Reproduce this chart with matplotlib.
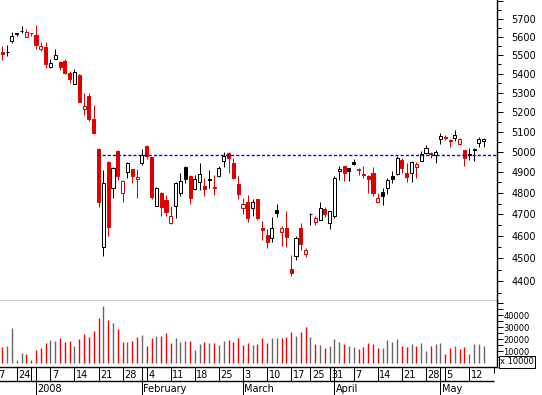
import matplotlib
matplotlib.use("Agg")
import matplotlib.pyplot as plt
from matplotlib.ticker import FixedLocator, FixedFormatter, NullFormatter
import numpy as np

plt.rcParams['font.family'] = ['DejaVu Sans']

# daily candles, index 0 = 24 Dec 2007, first visible one is index -3
first_idx = -3
opens = [5519, 5515, 5579, 5616, 5632, 5598, 5620, 5611, 5535, 5544,
         5438, 5481, 5463, 5468, 5406, 5347, 5393, 5217, 5282, 5164,
         5013, 4549, 4950, 4822, 5005, 4798, 4899, 4913, 4866, 4943,
         5030, 4971, 4740, 4798, 4767, 4658, 4738, 4798, 4925, 4882,
         4817, 4853, 4834, 4860, 4828, 4882, 4955, 4992, 4943, 4843,
         4728, 4756, 4728, 4769, 4636, 4605, 4592, 4720, 4617, 4635,
         4452, 4510, 4635, 4518, 4700, 4663, 4673, 4724, 4658, 4692,
         4907, 4927, 4919, 4947, 4917, 4891, 4881, 4894, 4759, 4806,
         4822, 4881, 4889, 4959, 4894, 4894, 4925, 4955, 4992, 4992,
         4983, 5063, 5074, 5058, 5066, 5036, 5006, 4983, 5010, 5041,
         5053]
highs = [5550, 5555, 5629, 5623, 5661, 5644, 5622, 5666, 5570, 5570,
         5479, 5534, 5468, 5479, 5415, 5425, 5399, 5300, 5297, 5236,
         5016, 4910, 4955, 4923, 5008, 4860, 4950, 4916, 4915, 5013,
         5034, 4973, 4827, 4803, 4790, 4738, 4851, 4897, 4929, 4885,
         4886, 4943, 4870, 4910, 4886, 4931, 4997, 5000, 4967, 4881,
         4775, 4790, 4771, 4772, 4669, 4632, 4689, 4748, 4646, 4715,
         4514, 4601, 4658, 4546, 4707, 4692, 4759, 4735, 4717, 4881,
         4929, 4930, 4921, 4964, 4919, 4929, 4886, 4926, 4798, 4825,
         4870, 4907, 4978, 4967, 4943, 4954, 4950, 5004, 5033, 5000,
         5008, 5094, 5084, 5061, 5108, 5066, 5009, 5016, 5016, 5074,
         5066]
lows = [5474, 5497, 5568, 5607, 5620, 5597, 5607, 5534, 5524, 5429,
        5432, 5480, 5420, 5399, 5352, 5346, 5250, 5184, 5155, 5089,
        4732, 4511, 4601, 4777, 4862, 4758, 4873, 4846, 4775, 4934,
        4964, 4771, 4737, 4693, 4693, 4656, 4681, 4787, 4846, 4748,
        4815, 4814, 4787, 4822, 4790, 4877, 4926, 4894, 4865, 4771,
        4701, 4663, 4693, 4673, 4582, 4544, 4574, 4688, 4556, 4551,
        4423, 4492, 4537, 4505, 4650, 4650, 4671, 4686, 4632, 4684,
        4862, 4858, 4858, 4934, 4886, 4873, 4798, 4785, 4756, 4745,
        4795, 4846, 4887, 4894, 4853, 4853, 4870, 4953, 4990, 4967,
        4946, 5038, 5058, 5021, 5054, 5033, 4931, 4959, 4955, 5021,
        5024]
closes = [5505, 5519, 5605, 5620, 5634, 5630, 5619, 5555, 5550, 5452,
          5458, 5501, 5438, 5406, 5372, 5410, 5253, 5231, 5162, 5094,
          4756, 4849, 4643, 4918, 4882, 4857, 4945, 4882, 4876, 4983,
          4978, 4782, 4822, 4732, 4712, 4692, 4846, 4858, 4865, 4777,
          4865, 4891, 4820, 4865, 4822, 4922, 4978, 4970, 4873, 4795,
          4746, 4681, 4759, 4684, 4626, 4574, 4635, 4704, 4635, 4597,
          4436, 4590, 4562, 4535, 4701, 4681, 4728, 4701, 4715, 4870,
          4913, 4894, 4905, 4938, 4910, 4884, 4865, 4801, 4775, 4787,
          4862, 4868, 4967, 4918, 4877, 4947, 4941, 4987, 5016, 4987,
          5000, 5078, 5066, 5053, 5083, 5061, 4967, 4986, 5011, 5061,
          5063]
volumes = [13700, 14300, 29700, 2500, 8700, 7600, 2500, 10900, 12900, 17100,
           19300, 18700, 21300, 17900, 18700, 14300, 20400, 24400, 22100, 27200,
           38100, 47900, 36100, 33900, 28600, 17400, 17900, 18700, 22100, 23500,
           14600, 21300, 22700, 22700, 24900, 16500, 21300, 17900, 18500, 18500,
           10900, 16000, 17900, 17100, 17100, 15100, 18500, 19300, 17900, 21300,
           15100, 17100, 15100, 16000, 20700, 16500, 20600, 21000, 21000, 21800,
           26000, 22700, 26000, 30300, 21800, 16000, 15100, 12600, 14300, 20200,
           17600, 16000, 14300, 13400, 11800, 13400, 16800, 16000, 12600, 12600,
           19300, 17600, 20200, 14300, 13400, 16000, 14300, 16800, 10100, 14300,
           16000, 16800, 7600, 12600, 14300, 11800, 13400, 7600, 16000, 16000,
           14300]
prev_close0 = 5530

resistance = 4983
resistance_from = 17

price_ticks = list(range(4400, 5900, 100))
price_labels = [str(p) for p in range(4400, 5800, 100)] + [""]
price_minor = list(range(4350, 5850, 100))
vol_ticks = [10000, 20000, 30000, 40000]
vol_minor = [5000, 15000, 25000, 35000, 45000, 50000]

day_ticks = [-5, 0, 7, 12, 17, 22, 27, 32, 37, 42, 47, 52, 57, 61, 65, 70, 75, 80, 85, 89, 94]
day_labels = ["17", "24", "7", "14", "21", "28", "4", "11", "18", "25", "3",
              "10", "17", "25", "31", "7", "14", "21", "28", "5", "12"]
week_lines = [-5, 0, 3, 7, 12, 17, 22, 27, 32, 37, 42, 52, 57, 61, 65, 70, 75, 80, 85, 89, 94]
month_ticks = [4, 26, 47, 66, 88]
month_labels = ["2008", "February", "March", "April", "May"]

RED = '#e00000'
VRED = '#ff0000'
GREY = '#666666'
W, H = 542, 395
right = 496.7
lw = 0.72

fig = plt.figure(figsize=(W / 100, H / 100), dpi=100)
ax = fig.add_axes([0, 1 - 301 / H, right / W, 301 / H])
axv = fig.add_axes([0, 1 - 367 / H, right / W, 66 / H], sharex=ax)
axd = fig.add_axes([0, 0, right / W, 28 / H], sharex=ax)

x = np.arange(first_idx, first_idx + len(opens))
o = np.array(opens, float)
h = np.array(highs, float)
l = np.array(lows, float)
c = np.array(closes, float)
prev = np.concatenate([[prev_close0], c[:-1]])
cols = [RED if cc < pp else 'black' for cc, pp in zip(c, prev)]
fills = ['white' if cc > oo else col for cc, oo, col in zip(c, o, cols)]

# price panel
ax.set_yscale('log')
ax.vlines(x, l, h, colors=cols, lw=lw, zorder=2)
body_lo = np.minimum(o, c)
body_h = np.maximum(np.abs(c - o), 0.5)
ax.bar(x, body_h, bottom=body_lo, width=0.64, color=fills, edgecolor=cols,
       linewidth=lw, zorder=3)
ax.hlines(resistance, resistance_from - 0.25, 100, colors='#0000ff', lw=1.0,
          linestyles=(0, (2.2, 1.5)), zorder=4)
ax.set_xlim(-3.47, 99.69)
ax.set_ylim(4313.8, 5808)
ax.yaxis.set_major_locator(FixedLocator(price_ticks))
ax.yaxis.set_major_formatter(FixedFormatter(price_labels))
ax.yaxis.set_minor_locator(FixedLocator(price_minor))
ax.yaxis.set_minor_formatter(NullFormatter())
ax.yaxis.tick_right()
ax.tick_params(axis='y', which='major', direction='out', length=4.3, width=lw,
               pad=6.3, labelsize=7)
ax.tick_params(axis='y', which='minor', direction='out', length=2.9, width=lw)
ax.tick_params(axis='x', which='both', bottom=False, labelbottom=False)
for s in ['left', 'top']:
    ax.spines[s].set_visible(False)
for s in ['right', 'bottom']:
    ax.spines[s].set_linewidth(1.0)

# volume panel
vcols = [VRED if col == RED else GREY for col in cols]
axv.vlines(x, 0, volumes, colors=vcols, lw=1.0)
axv.set_ylim(-3360, 52100)
axv.yaxis.set_major_locator(FixedLocator(vol_ticks))
axv.yaxis.set_major_formatter(FixedFormatter([str(v) for v in vol_ticks]))
axv.yaxis.set_minor_locator(FixedLocator(vol_minor))
axv.yaxis.tick_right()
axv.tick_params(axis='y', which='both', direction='out', length=4.3, width=lw,
                pad=0.6, labelsize=6)
axv.tick_params(axis='x', which='both', bottom=False, labelbottom=False)
for s in ['left', 'top']:
    axv.spines[s].set_visible(False)
for s in ['right', 'bottom']:
    axv.spines[s].set_linewidth(1.0)
fig.text(500 / W, 1 - 362 / H, "x 10000", fontsize=6, ha='left', va='center',
         bbox=dict(boxstyle='square,pad=0.15', fc='white', ec='black', lw=lw))

# date rows
axd.set_ylim(0, 2)
axd.axis('off')
axd.hlines(1, -4, 99.1, colors='black', lw=1.0)
axd.vlines(week_lines, 1, 2, colors='black', lw=lw)
axd.vlines([99.1], 1.6, 2, colors='black', lw=lw)
axd.vlines(month_ticks, 0, 2, colors='black', lw=lw)
for t, lab in zip(day_ticks, day_labels):
    axd.text(t + 0.3, 1.45, lab, fontsize=7, ha='left', va='center')
for t, lab in zip(month_ticks, month_labels):
    axd.text(t + 0.3, 0.45, lab, fontsize=7, ha='left', va='center')

fig.savefig('out.png', dpi=100)
